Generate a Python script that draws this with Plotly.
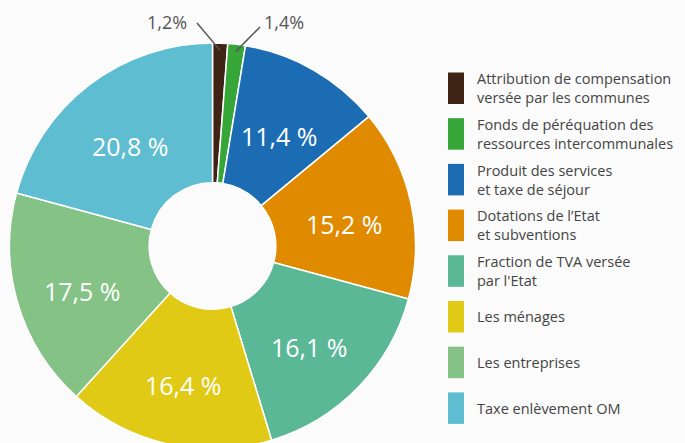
import math
import plotly.graph_objects as go

# Données
categories = [
    "Attribution de compensation<br>versée par les communes",
    "Fonds de péréquation des<br>ressources intercommunales",
    "Produit des services<br>et taxe de séjour",
    "Dotations de l’Etat<br>et subventions",
    "Fraction de TVA versée<br>par l'Etat",
    "Les ménages",
    "Les entreprises",
    "Taxe enlèvement OM",
]
values = [1.2, 1.4, 11.4, 15.2, 16.1, 16.4, 17.5, 20.8]
colors = ["#3f2415", "#35a637", "#1c6cb4", "#e08a00", "#5bb897", "#e1ca16", "#85c286", "#5ebdd1"]

W, H = 685, 450
cx, cy, R = 212.5, 246, 203
bg = "#fbfbfb"
font = "Open Sans"


def px(x, y):
    return x / W, 1 - y / H


def fmt(v, sep=" "):
    return f"{v:.1f}".replace(".", ",") + sep + "%"


fig = go.Figure(go.Pie(
    labels=categories, values=values, sort=False, direction="clockwise", rotation=0,
    hole=0.312, marker=dict(colors=colors, line=dict(color="white", width=1.5)),
    textinfo="none", hoverinfo="label+percent", showlegend=False,
    domain=dict(x=[(cx - R) / W, (cx + R) / W], y=[1 - (cy + R) / H, 1 - (cy - R) / H]),
))

annotations = []
shapes = []
total = sum(values)
cum = 0
for i, v in enumerate(values):
    mid = (cum + v / 2) / total * 2 * math.pi
    cum += v
    if v >= 5:
        lx = cx + 135 * math.sin(mid)
        ly = cy - 135 * math.cos(mid) + 7
        x, y = px(lx, ly)
        annotations.append(dict(x=x, y=y, xref="paper", yref="paper", text=fmt(v), showarrow=False,
                                xanchor="center", yanchor="middle",
                                font=dict(family=font, size=25, color="white")))
    else:
        tx = cx + 196 * math.sin(mid)
        ty = cy - 196 * math.cos(mid)
        if i == 0:
            ex, ey, lbx = 197, 23, 189
            anchor = "right"
        else:
            ex, ey, lbx = 260, 27, 262
            anchor = "left"
        x0, y0 = px(tx, ty)
        x1, y1 = px(ex, ey)
        shapes.append(dict(type="line", xref="paper", yref="paper", x0=x0, y0=y0, x1=x1, y1=y1,
                           line=dict(color="#555555", width=1.5)))
        x, y = px(lbx, 22)
        annotations.append(dict(x=x, y=y, xref="paper", yref="paper", text=fmt(v, ""), showarrow=False,
                                xanchor=anchor, yanchor="middle",
                                font=dict(family=font, size=18, color="#555555")))

# Légende dessinée à la main (rectangles hauts)
for i, (lab, col) in enumerate(zip(categories, colors)):
    top = 72.5 + i * 45.7
    bot = top + 31.5
    x0, y0 = px(448, bot)
    x1, y1 = px(464, top)
    shapes.append(dict(type="rect", xref="paper", yref="paper", x0=x0, y0=y0, x1=x1, y1=y1,
                       fillcolor=col, line=dict(width=0)))
    x, y = px(475, (top + bot) / 2)
    annotations.append(dict(x=x, y=y, xref="paper", yref="paper", text=lab, showarrow=False,
                            xanchor="left", yanchor="middle", align="left",
                            font=dict(family=font, size=14.5, color="#444444")))

fig.update_layout(
    width=W, height=H, margin=dict(l=0, r=0, t=0, b=0),
    paper_bgcolor=bg, plot_bgcolor=bg,
    annotations=annotations, shapes=shapes,
)

fig.write_html("out.html", config={"displayModeBar": False},
               post_script="document.body.style.margin='0';")
